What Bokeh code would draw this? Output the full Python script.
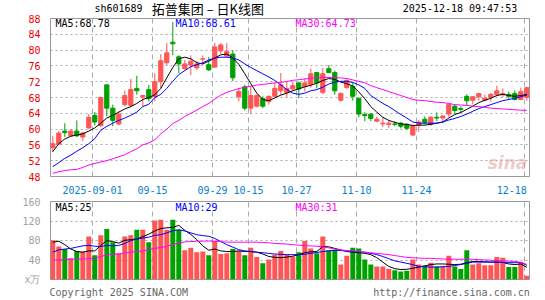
from bokeh.plotting import figure
from bokeh.models import Range1d, FixedTicker, Label, ColumnDataSource
from bokeh.layouts import column
from bokeh.core.properties import value
from bokeh.embed import file_html
from bokeh.resources import INLINE

# ---------------- data ----------------
open_ = [55.3, 56.2, 59.5, 58.3, 59.5, 58.0, 60.3, 63.5, 60.9, 71.2,
         65.3, 61.3, 66.2, 66.0, 70.3, 68.1, 70.0, 68.2, 72.0, 76.8,
         82.0, 78.3, 75.3, 76.2, 75.5, 77.7, 76.3, 75.7, 79.8, 78.5,
         79.0, 68.2, 70.7, 65.3, 65.8, 67.7, 67.0, 68.3, 69.7, 69.2,
         70.2, 71.7, 70.8, 71.3, 74.3, 69.3, 75.3, 74.3, 67.3, 70.5,
         70.8, 67.8, 63.7, 63.8, 62.0, 61.3, 61.2, 61.3, 61.5, 61.2,
         58.5, 61.0, 62.5, 61.3, 63.0, 62.8, 63.8, 65.8, 65.2, 68.3,
         67.3, 68.2, 67.3, 68.0, 68.7, 68.7, 68.8, 69.0, 67.5, 68.0]
close_ = [56.3, 59.0, 59.1, 59.5, 58.3, 59.0, 63.0, 61.8, 68.0, 65.3,
          62.2, 63.8, 68.5, 70.0, 69.7, 68.5, 67.7, 72.0, 77.3, 79.3,
          81.6, 76.5, 76.5, 77.2, 76.5, 77.8, 75.0, 80.8, 81.3, 79.7,
          73.0, 69.5, 65.3, 68.5, 68.5, 65.8, 68.3, 70.3, 71.2, 70.3,
          71.0, 70.2, 71.7, 74.0, 71.7, 74.0, 74.3, 69.7, 69.0, 72.3,
          68.3, 63.8, 63.4, 62.7, 62.5, 61.5, 61.5, 61.2, 60.7, 60.2,
          60.8, 61.8, 61.7, 63.0, 62.8, 63.3, 66.2, 64.7, 65.0, 67.2,
          68.2, 69.0, 67.8, 68.8, 69.7, 69.0, 68.3, 67.5, 69.5, 70.5]
high_ = [58.3, 59.5, 61.5, 60.0, 62.2, 59.3, 63.8, 64.3, 68.2, 71.2,
         66.2, 64.5, 69.8, 72.7, 73.5, 68.6, 71.2, 74.2, 79.0, 81.8,
         87.1, 78.7, 77.5, 78.7, 77.3, 78.7, 78.2, 81.8, 81.8, 81.8,
         80.0, 70.5, 71.2, 71.0, 68.8, 68.3, 68.5, 71.7, 74.2, 72.0,
         72.0, 72.0, 72.8, 75.3, 74.5, 75.5, 76.2, 74.8, 69.3, 72.7,
         71.7, 68.0, 64.3, 64.0, 63.2, 63.0, 62.2, 62.0, 61.8, 61.5,
         61.2, 62.3, 63.2, 63.3, 64.2, 63.5, 66.5, 66.2, 65.8, 68.8,
         68.3, 69.2, 68.7, 69.2, 71.0, 70.3, 69.5, 69.8, 70.5, 70.5]
low_ = [54.2, 56.1, 58.0, 58.1, 58.0, 57.0, 60.0, 60.9, 60.5, 63.3,
        60.7, 60.9, 65.7, 65.5, 68.7, 65.7, 67.0, 67.0, 70.3, 76.2,
        78.7, 74.2, 75.0, 73.7, 75.0, 76.3, 74.7, 75.5, 79.0, 78.2,
        72.2, 67.0, 64.7, 63.8, 65.5, 65.3, 66.2, 68.2, 68.7, 68.0,
        69.7, 67.8, 69.5, 70.5, 70.3, 68.8, 74.2, 68.7, 67.0, 70.2,
        67.2, 63.0, 62.0, 62.0, 61.7, 60.5, 60.2, 60.7, 60.2, 59.8,
        58.2, 59.3, 61.2, 60.8, 62.0, 61.5, 63.0, 63.8, 64.2, 66.0,
        66.2, 67.2, 67.0, 67.0, 68.3, 68.0, 67.5, 67.2, 67.3, 67.2]

ma5 = [54.3, 56.3, 57.5, 58.2, 58.5, 58.8, 59.5, 60.3, 61.5, 62.8,
       63.5, 64.3, 65.1, 65.7, 66.5, 67.5, 68.0, 68.7, 70.3, 73.0,
       75.6, 77.8, 78.2, 77.8, 76.8, 76.5, 77.2, 78.0, 78.8, 79.0,
       78.0, 76.4, 74.0, 71.5, 69.1, 67.5, 67.2, 67.9, 68.6, 69.1,
       69.7, 70.2, 70.7, 71.1, 71.6, 72.3, 72.8, 72.6, 71.9, 71.5,
       70.9, 69.4, 67.7, 65.7, 64.3, 63.0, 62.2, 61.7, 61.3, 61.2,
       60.9, 61.0, 61.0, 61.2, 61.5, 61.8, 62.8, 63.7, 64.2, 65.0,
       65.8, 66.7, 67.3, 67.8, 68.5, 68.8, 68.5, 68.3, 68.5, 68.78]
ma10 = [50.5, 51.5, 52.6, 53.4, 54.4, 55.3, 56.3, 57.6, 59.7, 60.7,
        61.5, 62.2, 62.8, 63.5, 64.3, 65.7, 66.3, 68.0, 68.8, 70.3,
        72.1, 73.8, 74.8, 75.8, 76.3, 76.8, 77.5, 78.0, 78.2, 78.2,
        78.0, 77.5, 76.5, 75.6, 74.8, 74.0, 73.2, 72.3, 71.2, 70.0,
        69.1, 68.8, 69.1, 69.7, 70.0, 70.6, 71.4, 71.9, 72.1, 72.1,
        71.8, 71.2, 70.3, 68.5, 67.5, 66.5, 65.7, 64.7, 63.7, 62.8,
        61.8, 61.5, 61.5, 61.5, 61.5, 61.8, 62.3, 62.7, 63.2, 63.8,
        64.5, 65.2, 65.7, 66.2, 66.7, 67.2, 67.5, 67.8, 68.2, 68.61]
ma30 = [48.8, 49.2, 49.5, 49.7, 49.8, 50.3, 50.9, 51.3, 51.7, 52.0,
        52.5, 53.0, 53.5, 54.3, 55.0, 56.0, 56.5, 57.3, 58.8, 60.0,
        61.4, 62.2, 63.2, 64.0, 64.8, 65.7, 66.5, 67.6, 68.6, 69.3,
        69.8, 70.25, 70.6, 70.85, 71.15, 71.3, 71.5, 71.7, 71.85, 72.05,
        72.35, 72.5, 72.7, 72.85, 73.0, 73.05, 73.1, 73.05, 72.95, 72.8,
        72.45, 72.1, 71.7, 71.0, 70.5, 70.0, 69.5, 69.0, 68.5, 68.0,
        67.5, 67.3, 67.2, 67.0, 66.8, 66.7, 66.5, 66.2, 66.1, 66.0,
        65.8, 65.7, 65.5, 65.3, 65.2, 65.1, 65.0, 64.9, 64.8, 64.73]

volume = [80.4, 67.6, 62.5, 43.4, 58.7, 57.4, 88.0, 49.8, 90.6, 103.4,
          76.6, 53.6, 88.0, 90.6, 102.0, 102.0, 76.6, 121.0, 122.5, 102.0,
          122.5, 102.0, 60.0, 65.0, 56.0, 57.4, 49.8, 79.0, 52.3, 53.6,
          62.5, 58.7, 49.8, 65.0, 46.0, 33.2, 40.8, 51.0, 58.7, 51.0,
          47.2, 56.0, 79.0, 63.8, 53.6, 88.0, 60.0, 61.2, 30.6, 48.5,
          65.0, 63.8, 40.8, 30.6, 26.8, 26.8, 21.7, 19.1, 16.6, 17.9,
          40.8, 30.6, 28.0, 34.5, 26.8, 26.8, 48.5, 26.8, 21.7, 60.0,
          30.6, 33.2, 29.3, 29.3, 45.9, 44.7, 25.5, 25.5, 35.7, 7.7]
vma5 = [76.6, 78.5, 71.5, 62.5, 57.4, 56.0, 58.7, 58.7, 70.0, 79.8,
        77.8, 74.6, 80.4, 81.7, 83.0, 88.0, 93.0, 99.5, 104.6, 106.0,
        107.0, 111.0, 100.8, 92.5, 81.7, 69.0, 60.0, 62.5, 58.7, 57.4,
        57.4, 58.7, 57.4, 57.4, 56.0, 52.3, 47.2, 45.5, 44.7, 46.0,
        47.9, 51.0, 54.9, 56.8, 57.4, 67.6, 67.0, 63.8, 60.6, 57.4,
        56.0, 54.9, 53.6, 51.0, 44.7, 35.7, 26.8, 22.3, 20.4, 21.0,
        23.0, 25.5, 28.0, 30.6, 31.9, 31.9, 31.3, 30.6, 31.3, 34.5,
        37.0, 37.0, 36.4, 35.7, 35.7, 35.1, 31.9, 30.6, 31.9, 25.0]
vma10 = [56.0, 60.6, 62.5, 63.8, 66.4, 69.0, 70.0, 68.3, 67.6, 70.0,
         69.0, 70.0, 74.0, 79.8, 83.0, 84.9, 86.8, 90.6, 91.9, 95.7,
         100.0, 102.0, 99.5, 95.7, 91.9, 90.0, 88.7, 84.2, 77.8, 71.5,
         66.4, 61.2, 58.7, 57.4, 56.0, 54.9, 53.6, 52.3, 51.7, 51.0,
         51.0, 51.0, 51.7, 53.6, 55.5, 57.4, 58.7, 60.0, 59.3, 58.7,
         57.4, 56.8, 56.0, 53.6, 51.0, 47.2, 42.7, 38.3, 35.7, 33.2,
         30.6, 26.8, 26.2, 25.5, 25.5, 26.2, 26.8, 28.7, 30.6, 33.2,
         35.7, 35.7, 35.7, 35.7, 35.7, 35.1, 34.5, 34.5, 35.1, 29.0]
vma30 = [39.6, 40.2, 40.8, 41.5, 41.5, 42.1, 42.7, 44.0, 47.2, 50.4,
         51.7, 52.3, 54.2, 56.0, 57.4, 58.7, 61.2, 63.8, 65.7, 68.3,
         71.5, 74.6, 77.2, 77.8, 78.5, 78.5, 79.0, 78.5, 77.8, 76.6,
         76.6, 76.6, 76.6, 76.6, 76.6, 75.9, 75.3, 74.0, 73.4, 72.7,
         71.5, 70.2, 69.5, 68.9, 68.3, 67.0, 65.0, 62.5, 60.6, 59.3,
         58.7, 57.4, 56.0, 54.9, 53.6, 52.3, 51.0, 49.1, 47.2, 45.3,
         44.7, 44.0, 43.4, 43.4, 42.7, 42.1, 41.5, 41.5, 41.5, 42.1,
         41.5, 40.8, 40.2, 39.6, 38.9, 38.3, 37.6, 37.0, 35.0, 31.0]

date_idx = [7, 17, 27, 33, 41, 51, 61, 79]
date_labels = ["2025-09-01", "09-15", "09-29", "10-15", "10-27", "11-10", "11-24", "12-18"]
price_ticks = [48, 52, 56, 60, 64, 68, 72, 76, 80, 84, 88]
vol_ticks = [0, 40, 80, 120, 160]
vol_tick_labels = ["x万", "40", "80", "120", "160"]
footer_texts = ["Copyright 2025 SINA.COM", "http://finance.sina.com.cn"]

# ---------------- styling ----------------
RED = "#ff5555"
GREEN = "#00a000"
MONO = "DejaVu Sans Mono"
GRID_SHIFT = -0.375

n = len(close_)
xs = list(range(n))
colors = [RED if c >= o else GREEN for o, c in zip(open_, close_)]
src = ColumnDataSource(dict(
    x=xs, high=high_, low=low_,
    top=[max(o, c) for o, c in zip(open_, close_)],
    bottom=[min(o, c) for o, c in zip(open_, close_)],
    color=colors, vol=volume,
    ma5=ma5, ma10=ma10, ma30=ma30, vma5=vma5, vma10=vma10, vma30=vma30,
))

xr = Range1d(-0.383, 79.45)
grid_x = [d + GRID_SHIFT for d in date_idx]


def style_common(p):
    p.background_fill_color = "white"
    p.border_fill_color = "white"
    p.outline_line_color = "#999999"
    p.outline_line_width = 1
    p.xgrid.ticker = FixedTicker(ticks=grid_x)
    p.xgrid.grid_line_color = "#aaaaaa"
    p.xgrid.grid_line_dash = "5 4"
    p.ygrid.grid_line_color = "#aaaaaa"
    p.ygrid.grid_line_dash = "2 3"
    for ax in p.yaxis:
        ax.axis_line_color = None
        ax.major_tick_line_color = None
        ax.minor_tick_line_color = None
        ax.major_label_text_font = MONO
        ax.major_label_text_font_size = "10px"
        ax.major_label_standoff = 4


def style_xaxis(ax, color, standoff):
    ax.axis_line_color = None
    ax.major_tick_line_color = None
    ax.minor_tick_line_color = None
    ax.major_label_text_font = MONO
    ax.major_label_text_font_size = "10px"
    ax.major_label_text_color = color
    ax.major_label_standoff = standoff


def lab(p, x, y, text, color="#000000", size="10px", align="left", font=MONO, **kw):
    p.add_layout(Label(x=x, y=y, x_units="canvas", y_units="canvas", text=text,
                       text_color=color, text_font_size=size, text_align=align,
                       text_baseline="middle", text_font=font, **kw))


# ---------------- header strip (overlaps the price panel's top border by 4px) ----------------
hdr = figure(width=545, height=18, x_range=Range1d(0, 545), y_range=Range1d(18, 0),
             output_backend="svg", toolbar_location=None, min_border=0,
             x_axis_location=None, y_axis_location=None)
hdr.outline_line_color = None
hdr.grid.visible = False
hdr.text(x=[50], y=[8], text=["sh601689"], text_font=value(MONO), text_font_size="10px",
         text_baseline="middle", text_align="left", text_color="#000000")
hdr.text(x=[179], y=[8], text=["拓普集团 – 日K线图"], text_font=value("Noto Sans CJK SC"),
         text_font_size="13px", text_baseline="middle", text_align="center", text_color="#000000")
hdr.text(x=[531], y=[8], text=["2025-12-18 09:47:53"], text_font=value(MONO), text_font_size="10px",
         text_baseline="middle", text_align="right", text_color="#000000")

# ---------------- price panel ----------------
p1 = figure(width=545, height=182, x_range=xr, y_range=Range1d(48, 88),
            output_backend="svg", toolbar_location=None, margin=(-4, 0, 0, 0),
            min_border_left=50, min_border_right=16, min_border_top=4, min_border_bottom=18)
style_common(p1)
p1.border_fill_alpha = 0.0
p1.yaxis.ticker = FixedTicker(ticks=price_ticks)
p1.yaxis.major_label_text_color = "#ee0000"
p1.ygrid.ticker = FixedTicker(ticks=price_ticks[1:-1])
label_pos = grid_x[:-1] + [76.5]   # last label is kept inside the frame edge
p1.xaxis.ticker = FixedTicker(ticks=label_pos)
p1.xaxis.major_label_overrides = {g: t for g, t in zip(label_pos, date_labels)}
style_xaxis(p1.xaxis[0], "#0a80cc", 3)

p1.segment(x0="x", y0="low", x1="x", y1="high", line_color="color", line_width=1, source=src)
p1.vbar(x="x", width=0.7, top="top", bottom="bottom", fill_color="color",
        line_color="color", line_width=1, source=src)
p1.line("x", "ma5", color="#000000", line_width=1, source=src)
p1.line("x", "ma10", color="#0000ff", line_width=1, source=src)
p1.line("x", "ma30", color="#ff00ff", line_width=1, source=src)

lab(p1, 55, 9, "MA5:68.78", color="#000000")
lab(p1, 175, 9, "MA10:68.61", color="#0000ff")
lab(p1, 295, 9, "MA30:64.73", color="#ff00ff")
lab(p1, 507, 148, "sina", color="#e39a9a", size="17px", align="center",
    font="DejaVu Sans", text_font_style="bold italic", text_alpha=0.55)

# ---------------- volume panel ----------------
p2 = figure(width=545, height=104, x_range=xr, y_range=Range1d(0, 160),
            output_backend="svg", toolbar_location=None,
            min_border_left=50, min_border_right=16, min_border_top=5, min_border_bottom=14)
style_common(p2)
p2.yaxis.ticker = FixedTicker(ticks=vol_ticks)
p2.yaxis.major_label_overrides = {v: t for v, t in zip(vol_ticks, vol_tick_labels)}
p2.yaxis.major_label_text_color = "#a0a0a0"
p2.ygrid.ticker = FixedTicker(ticks=vol_ticks[1:-1])
footer_pos = [11.0, 66.45]
p2.xaxis.ticker = FixedTicker(ticks=footer_pos)
p2.xaxis.major_label_overrides = {f: t for f, t in zip(footer_pos, footer_texts)}
style_xaxis(p2.xaxis[0], "#666666", 1)

p2.vbar(x="x", width=0.83, top="vol", bottom=0, fill_color="color", line_color=None, source=src)
p2.line("x", "vma5", color="#000000", line_width=1, source=src)
p2.line("x", "vma10", color="#0000ff", line_width=1, source=src)
p2.line("x", "vma30", color="#ff00ff", line_width=1, source=src)

lab(p2, 55, 11, "MA5:25", color="#000000")
lab(p2, 175, 11, "MA10:29", color="#0000ff")
lab(p2, 295, 11, "MA30:31", color="#ff00ff")

layout = column(hdr, p1, p2)
open("out.html", "w").write(file_html(layout, INLINE))
